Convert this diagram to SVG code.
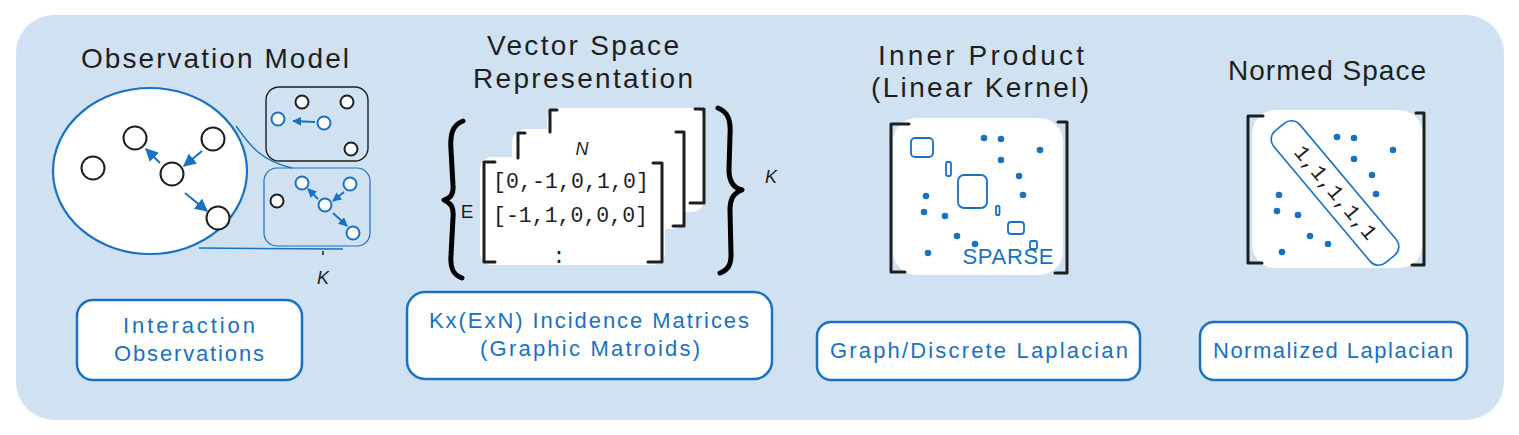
<svg xmlns="http://www.w3.org/2000/svg" width="1519" height="435" viewBox="0 0 1519 435">
<style>
.title{font-family:"Liberation Sans",Arial,sans-serif;font-size:28px;fill:#1e1e1e;text-anchor:middle}
.lbl{font-family:"Liberation Sans",Arial,sans-serif;font-size:22px;fill:#1971c2;text-anchor:middle}
.mono{font-family:"Liberation Mono","DejaVu Sans Mono",monospace;font-size:21.5px;fill:#1e1e1e}
.box{fill:#ffffff;stroke:#1971c2;stroke-width:2.5}
.bk{fill:#ffffff;stroke:#1e1e1e;stroke-width:2}
.bn{fill:#ffffff;stroke:#1971c2;stroke-width:2}
.brk{fill:none;stroke:#1e1e1e;stroke-width:3;stroke-linecap:round;stroke-linejoin:round}
.brace{fill:none;stroke:#000;stroke-width:5;stroke-linecap:round;stroke-linejoin:round}
.arr{stroke:#1971c2;stroke-width:2;fill:none}
.dot{fill:#1971c2}
.sq{fill:none;stroke:#1971c2;stroke-width:1.8}
.it{font-family:"Liberation Sans",Arial,sans-serif;font-style:italic;font-size:18px;fill:#1e1e1e;text-anchor:middle}
</style>
<defs>
<marker id="ahb" viewBox="0 0 10 10" refX="9" refY="5" markerWidth="13" markerHeight="13" markerUnits="userSpaceOnUse" orient="auto"><path d="M0,0 L10,5 L0,10 z" fill="#1971c2"/></marker>
<marker id="ahs" viewBox="0 0 10 10" refX="9" refY="5" markerWidth="9" markerHeight="9" markerUnits="userSpaceOnUse" orient="auto"><path d="M0,0 L10,5 L0,10 z" fill="#1971c2"/></marker>
</defs>
<rect x="16" y="15" width="1488" height="405" rx="38" fill="#d0e2f2"/>

<!-- Titles -->
<g id="titles">
<text class="title" x="215" y="68" textLength="268">Observation Model</text>
<text class="title" x="583" y="55" textLength="192">Vector Space</text>
<text class="title" x="583" y="88" textLength="220">Representation</text>
<text class="title" x="981" y="65" textLength="206">Inner Product</text>
<text class="title" x="980" y="97" textLength="218">(Linear Kernel)</text>
<text class="title" x="1327" y="80" textLength="198">Normed Space</text>
</g>

<!-- Observation model -->
<g id="observation-model">
<path d="M236 126 C248 142 258 160 292 168" fill="none" stroke="#1971c2" stroke-width="1.5"/>
<ellipse cx="150" cy="171" rx="97" ry="83" fill="#ffffff" stroke="#1971c2" stroke-width="2.2"/>
<line x1="199" y1="248" x2="343" y2="249" stroke="#1971c2" stroke-width="1.5"/>
<circle class="bk" cx="93" cy="168" r="11.5"/>
<circle class="bk" cx="135" cy="138" r="11.5"/>
<circle class="bk" cx="213" cy="139" r="11.5"/>
<circle class="bk" cx="172" cy="174" r="11.5"/>
<circle class="bk" cx="218" cy="218" r="11.5"/>
</g>
<g id="snapshot-1">
<rect x="266" y="87" width="102" height="74" rx="13" fill="none" stroke="#1e1e1e" stroke-width="1.4"/>
<circle class="bk" cx="302" cy="102" r="6.5"/>
<circle class="bk" cx="347" cy="102" r="6.5"/>
<circle class="bk" cx="351" cy="149" r="6.5"/>
<circle class="bn" cx="278" cy="119" r="6.5"/>
<circle class="bn" cx="324" cy="123" r="6.5"/>
</g>
<g id="snapshot-2">
<rect x="264" y="168" width="106" height="78" rx="13" fill="none" stroke="#1971c2" stroke-width="1.2"/>
<circle class="bk" cx="277" cy="201" r="6.5"/>
<circle class="bn" cx="302" cy="183" r="6.5"/>
<circle class="bn" cx="350" cy="184" r="6.5"/>
<circle class="bn" cx="325" cy="205" r="6.5"/>
<circle class="bn" cx="353" cy="233" r="6.5"/>
</g>
<line x1="323" y1="251" x2="323" y2="255" stroke="#1e1e1e" stroke-width="1.5"/>
<text class="it" x="323" y="284">K</text>

<g id="connectors">
<line class="arr" x1="160" y1="163" x2="146" y2="149" marker-end="url(#ahb)"/>
<line class="arr" x1="202" y1="151" x2="184" y2="166" marker-end="url(#ahb)"/>
<line class="arr" x1="185" y1="193" x2="207" y2="211" marker-end="url(#ahb)"/>
<line class="arr" x1="315" y1="122" x2="293" y2="121" marker-end="url(#ahs)"/>
<line class="arr" x1="318" y1="199" x2="308" y2="189" marker-end="url(#ahs)"/>
<line class="arr" x1="344" y1="192" x2="333" y2="201" marker-end="url(#ahs)"/>
<line class="arr" x1="333" y1="213" x2="347" y2="226" marker-end="url(#ahs)"/>
</g>

<g id="label-interaction">
<rect class="box" x="77" y="300" width="225" height="80" rx="16"/>
<text class="lbl" x="189" y="333" textLength="132">Interaction</text>
<text class="lbl" x="189" y="361" textLength="150">Observations</text>
</g>

<!-- Vector space -->
<g id="vector-space">
<rect x="547" y="108" width="158" height="104" rx="14" fill="#ffffff"/>
<rect x="512" y="129" width="173" height="100" rx="14" fill="#ffffff"/>
<rect x="480" y="157" width="185" height="108" rx="12" fill="#ffffff"/>
<path class="brk" d="M557 110 L550 110 L550 132"/>
<path class="brk" d="M695 109 L704 109 L704 203 L690 203"/>
<path class="brk" d="M525 133 L518 133 L518 158"/>
<path class="brk" d="M676 132 L684 132 L684 226 L673 226"/>
<path class="brk" d="M495 162 L484 162 L484 262 L495 262"/>
<path class="brk" d="M653 163 L662 163 L662 262 L648 262"/>
<text class="mono" x="493" y="188" textLength="156">[0,-1,0,1,0]</text>
<text class="mono" x="493" y="222" textLength="155">[-1,1,0,0,0]</text>
<text class="mono" x="559" y="263" text-anchor="middle">:</text>
<text class="it" x="582" y="155" font-size="16">N</text>
<text x="467" y="218" font-family="Liberation Sans,Arial,sans-serif" font-size="19" fill="#1e1e1e" text-anchor="middle">E</text>
<path class="brace" d="M463 121 C452 125 450 135 451 150 L453 185 C454 195 450 198 444 200 C451 203 454 207 453 218 L451 255 C450 268 453 275 462 278"/>
<path class="brace" d="M718 108 C728 112 731 120 730 135 L729 170 C729 182 734 188 742 190 C734 193 730 198 730 210 L731 255 C731 265 728 270 720 273"/>
<text class="it" x="771" y="183" font-style="normal" font-size="18">K</text>
</g>

<g id="label-incidence">
<rect class="box" x="407" y="292" width="365" height="87" rx="18"/>
<text class="lbl" x="589" y="328" textLength="320">Kx(ExN) Incidence Matrices</text>
<text class="lbl" x="590" y="356" textLength="220">(Graphic Matroids)</text>
</g>

<!-- Inner product -->
<g id="inner-product">
<rect x="893" y="118" width="170" height="157" rx="24" fill="#ffffff"/>
<path class="brk" d="M909 124 L891 124 L891 272 L905 272"/>
<path class="brk" d="M1058 122 L1067 122 L1067 273 L1055 273"/>
<rect class="sq" x="911" y="138" width="22" height="19" rx="4"/>
<rect class="sq" x="946" y="162" width="5" height="14" rx="1.5"/>
<rect class="sq" x="958" y="175" width="29" height="33" rx="6"/>
<rect class="sq" x="996" y="206" width="3.5" height="9" rx="1"/>
<rect class="sq" x="1008" y="222" width="16" height="12" rx="3"/>
<rect class="sq" x="1030" y="241" width="7" height="8" rx="1.5"/>
<circle class="dot" cx="984" cy="138" r="3.3"/>
<circle class="dot" cx="1001" cy="139" r="3.3"/>
<circle class="dot" cx="1040" cy="150" r="3.3"/>
<circle class="dot" cx="1001" cy="160" r="3.3"/>
<circle class="dot" cx="1019" cy="176" r="3.3"/>
<circle class="dot" cx="926" cy="196" r="3.3"/>
<circle class="dot" cx="1023" cy="195" r="3.3"/>
<circle class="dot" cx="924" cy="212" r="3.3"/>
<circle class="dot" cx="945" cy="216" r="3.3"/>
<circle class="dot" cx="957" cy="236" r="3.3"/>
<circle class="dot" cx="975" cy="244" r="3.3"/>
<circle class="dot" cx="928" cy="253" r="3.3"/>
<text class="lbl" x="1008" y="264" textLength="91">SPARSE</text>
</g>

<g id="label-graph-laplacian">
<rect class="box" x="817" y="322" width="323" height="58" rx="14"/>
<text class="lbl" x="979" y="358" textLength="298">Graph/Discrete Laplacian</text>
</g>

<!-- Normed space -->
<g id="normed-space">
<rect x="1252" y="110" width="171" height="158" rx="24" fill="#ffffff"/>
<path class="brk" d="M1263 116 L1248 116 L1248 263 L1262 263"/>
<path class="brk" d="M1416 113 L1424 113 L1424 265 L1412 265"/>
<circle class="dot" cx="1337" cy="137" r="3.3"/>
<circle class="dot" cx="1354" cy="138" r="3.3"/>
<circle class="dot" cx="1393" cy="150" r="3.3"/>
<circle class="dot" cx="1354" cy="159" r="3.3"/>
<circle class="dot" cx="1372" cy="175" r="3.3"/>
<circle class="dot" cx="1376" cy="194" r="3.3"/>
<circle class="dot" cx="1279" cy="195" r="3.3"/>
<circle class="dot" cx="1277" cy="211" r="3.3"/>
<circle class="dot" cx="1298" cy="215" r="3.3"/>
<circle class="dot" cx="1310" cy="236" r="3.3"/>
<circle class="dot" cx="1328" cy="244" r="3.3"/>
<circle class="dot" cx="1282" cy="252" r="3.3"/>
<g transform="translate(1335 193) rotate(50)">
<rect x="-86" y="-17" width="172" height="34" rx="11" fill="#ffffff" stroke="#1971c2" stroke-width="1.6"/>
<text class="mono" x="0" y="6" text-anchor="middle" font-size="20">1,1,1,1,1</text>
</g>
</g>

<g id="label-normalized">
<rect class="box" x="1200" y="322" width="267" height="58" rx="14"/>
<text class="lbl" x="1333" y="358" textLength="240">Normalized Laplacian</text>
</g>
</svg>
